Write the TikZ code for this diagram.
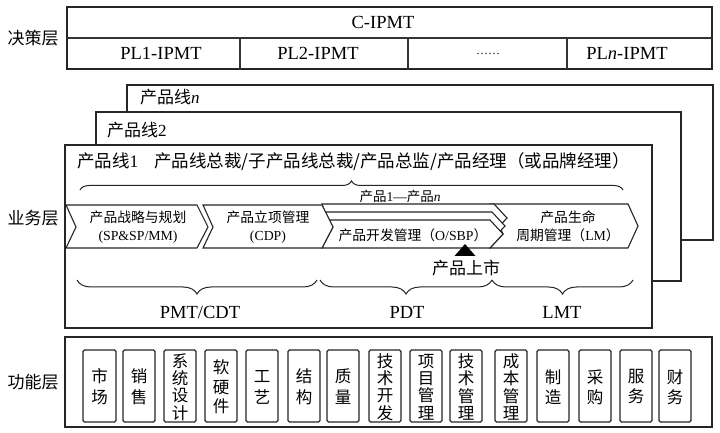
\documentclass[tikz,border=0pt]{standalone}
\usepackage{fontspec}
\setmainfont{Liberation Serif}
\newfontfamily\cjk{Noto Sans CJK SC}
\usetikzlibrary{decorations.pathreplacing}
\begin{document}
\begin{tikzpicture}[x=1bp,y=-1bp,
  lbl/.style={font=\cjk\fontsize{17bp}{19bp}\selectfont, inner sep=0pt},
  lat/.style={font=\fontsize{18.5bp}{20bp}\selectfont, inner sep=0pt},
  small/.style={font=\fontsize{13.8bp}{18bp}\selectfont, inner sep=0pt, align=center},
  frame/.style={draw=black!85, line width=1.7bp, fill=white},
  thinline/.style={draw=black!80, line width=1.1bp},
  chev/.style={draw=black!85, line width=1.1bp, fill=white, line join=miter},
  fbox/.style={draw=black!85, line width=1.2bp, rounded corners=1.5bp},
  bracel/.style={draw=black!85, line width=1bp, decorate, decoration={brace, amplitude=#1}},
  bracel/.default=9bp
]
\fill[white] (0,0) rectangle (720,433);
\useasboundingbox (0,0) rectangle (720,433);

% ---------- decision layer ----------
\node[lbl] (jc) at (33,38) {决策层};
\draw[frame] (67,7) rectangle (712,69);
\draw[thinline] (67,38) -- (712,38);
\foreach \x in {240,408,567} \draw[thinline] (\x,38) -- (\x,69);
\node[lat] (cipmt) at (383,22.5) {C-IPMT};
\node[lat] (pl1) at (161,53.5) {PL1-IPMT};
\node[lat] (pl2) at (318,53.5) {PL2-IPMT};
\node[lat] (pldots) at (488,53.5) {\fontsize{12bp}{14bp}\selectfont ……};
\node[lat] (pln) at (627,53.5) {PL\textit{n}-IPMT};

% ---------- business layer ----------
\node[lbl] (yw) at (33,218) {业务层};
\draw[frame] (127,85) rectangle (713,240);
\node[lbl, anchor=west] (plnn) at (140,97) {产品线\textit{\fontspec{Liberation Serif}n}};
\draw[frame] (96,112) rectangle (681,281);
\node[lbl, anchor=west] (pl2n) at (107,130) {产品线{\fontspec{Liberation Serif}2}};
\draw[frame] (65,145) rectangle (652,328);
\node[lbl, anchor=west, font=\cjk\fontsize{17.5bp}{19bp}\selectfont] (pl1n) at (77,162) {产品线{\fontspec{Liberation Serif}1}\hspace{0.9em}产品线总裁/子产品线总裁/产品总监/产品经理（或品牌经理）};

% top brace
\draw[bracel=9bp] (80,190) -- (623,190);
\node[lbl, font=\cjk\fontsize{13.5bp}{15bp}\selectfont] (p1n) at (400,196) {产品{\fontspec{Liberation Serif}1—}产品\textit{\fontspec{Liberation Serif}n}};

% chevron 4 (LM)
\draw[chev] (490,204) -- (628,204) -- (638,226) -- (628,248) -- (490,248) -- (503,234) -- cycle;
% chevron 3 stacks
\draw[chev] (322,204) -- (494,204) -- (507,218) -- (494,232) -- (333,232) -- cycle;
\draw[chev] (325.5,212) -- (492,212) -- (505,226) -- (492,240) -- (333,240) -- (333,227) -- cycle;
\draw[chev] (329.5,220) -- (490,220) -- (503,234) -- (490,248) -- (322,248) -- (333,227) -- cycle;
% chevron 1 and 2
\draw[chev] (66,205) -- (197,205) -- (208,227) -- (197,248) -- (66,248) -- (76,227) -- cycle;
\draw[chev] (203,205) -- (322,205) -- (333,227) -- (322,248) -- (203,248) -- (213,227) -- cycle;

\node[small] (c1) at (138,227) {{\cjk 产品战略与规划}\\(SP\&SP/MM)};
\node[small] (c2) at (268,227) {{\cjk 产品立项管理}\\(CDP)};
\node[small] (c3) at (413,235.5) {{\cjk 产品开发管理（}O/SBP{\cjk ）}};
\node[small] (c4) at (568,226) {{\cjk 产品生命}\\{\cjk 周期管理（}LM{\cjk ）}};

% launch marker
\fill[black] (465,244) -- (475.5,256) -- (454.5,256) -- cycle;
\node[lbl, font=\cjk\fontsize{17bp}{18bp}\selectfont] (launch) at (466,268) {产品上市};

% bottom braces
\draw[bracel=14bp] (317,280) -- (77,280);
\draw[bracel=14bp] (492,280) -- (320,280);
\draw[bracel=14bp] (633,280) -- (492,280);
\node[lat] (pmt) at (200,312) {PMT/CDT};
\node[lat] (pdt) at (407,312) {PDT};
\node[lat] (lmt) at (562,312) {LMT};

% ---------- functional layer ----------
\node[lbl] (gn) at (33,382) {功能层};
\draw[frame] (65,337) rectangle (712,427);
\foreach \l/\r/\t/\lsk [count=\i] in {
  83/116/{市\\场}/21,
  123/155/{销\\售}/21,
  164/196/{系\\统\\设\\计}/17.3,
  205/237/{软\\硬\\件}/19.5,
  246/278/{工\\艺}/21,
  288/320/{结\\构}/21,
  327/359/{质\\量}/21,
  369/401/{技\\术\\开\\发}/17.3,
  410/442/{项\\目\\管\\理}/17.3,
  450/482/{技\\术\\管\\理}/17.3,
  495/527/{成\\本\\管\\理}/17.3,
  537/569/{制\\造}/20,
  579/611/{采\\购}/20,
  620/652/{服\\务}/20,
  659/691/{财\\务}/20}
{
  \draw[fbox] (\l,350) rectangle (\r,422);
  \node[align=center, inner sep=0pt, font=\cjk\fontsize{16.5bp}{\lsk bp}\selectfont] (f\i) at ({(\l+\r)/2},387) {\t};
}
\end{tikzpicture}
\end{document}
